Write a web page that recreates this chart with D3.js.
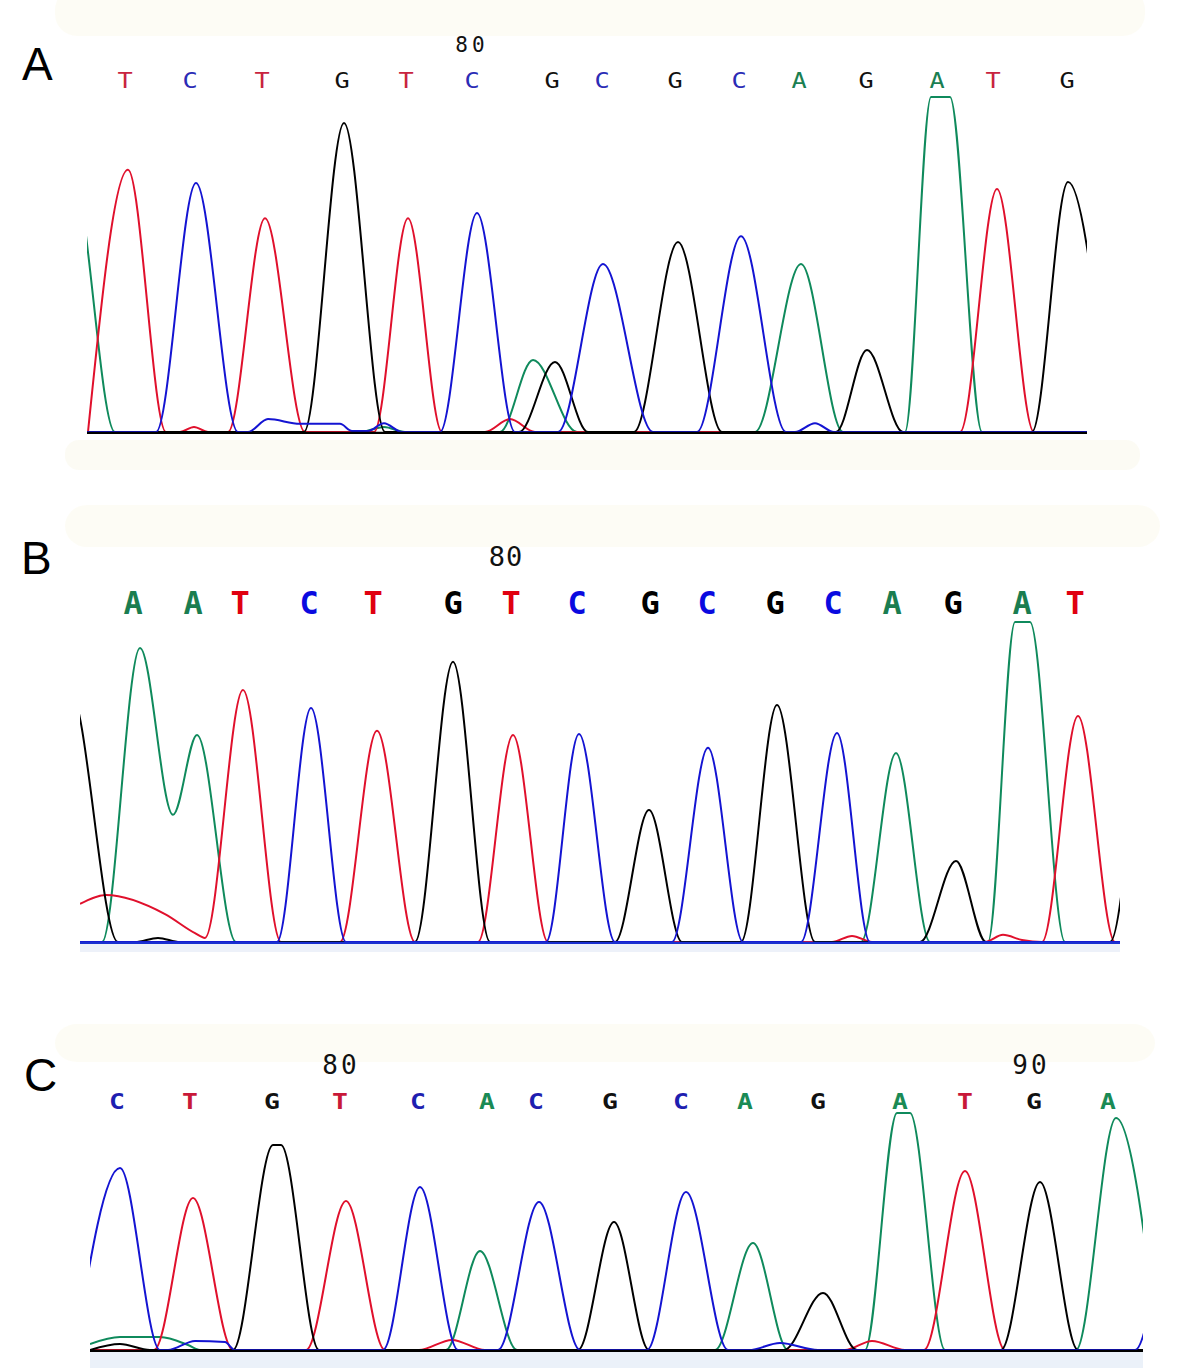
<!DOCTYPE html>
<html><head><meta charset="utf-8">
<script src="https://cdn.jsdelivr.net/npm/d3@7"></script>
<style>body{margin:0;background:#fff}</style>
</head><body>
<svg id="chart" width="1181" height="1368"></svg>
<script>
// ---------- DATA (scan position, signal 0-1000) ----------
// Panel A
const A_seq = ["T","C","T","G","T","C","G","C","G","C","A","G","A","T","G"];
const A_callScan = [38,103,175,255,319,385,465,515,588,652,712,779,850,906,980];
const A_posLabels = ["80"];
const A_posScan = [385];
const A_scanDomain = [0,1000];
const A_traceA = [[-47,0],[-15,771],[28,0],[273,0],[297,15],[318,0],[413,0],[446,212],[490,0],[668,0],[714,494],[756,0],[818,0],[844,985],[863,985],[895,0],[1000,0]];
const A_traceC = [[0,0],[69,0],[109,732],[151,0],[161,0],[181,38],[213,24],[253,24],[265,3],[281,3],[297,26],[315,0],[353,0],[390,644],[428,0],[471,0],[516,494],[566,0],[610,0],[654,576],[699,0],[708,0],[728,26],[747,0],[1000,0]];
const A_traceG = [[0,0],[217,0],[257,909],[298,0],[432,0],[468,206],[501,0],[547,0],[591,559],[635,0],[749,0],[780,241],[816,0],[945,0],[981,735],[1023,0]];
const A_traceT = [[1,0],[41,771],[79,0],[93,0],[107,15],[121,0],[141,0],[178,629],[218,0],[287,0],[321,629],[355,0],[398,0],[423,38],[448,0],[873,0],[910,715],[947,0],[1000,0]];

// Panel B
const B_seq = ["A","A","T","C","T","G","T","C","G","C","G","C","A","G","A","T"];
const B_callScan = [53,113,160,229,293,373,431,497,570,627,695,753,812,873,942,995];
const B_posLabels = ["80"];
const B_posScan = [426];
const B_scanDomain = [0,1040];
const B_traceA = [[0,0],[22,0],[60,865],[93,374],[117,609],[156,0],[781,0],[816,556],[850,0],[908,0],[935,941],[950,941],[985,0],[1040,0]];
const B_traceC = [[0,0],[197,0],[231,688],[266,0],[466,0],[499,612],[535,0],[592,0],[628,571],[663,0],[721,0],[757,615],[790,0],[1040,0]];
const B_traceG = [[-60,0],[-10,741],[38,0],[55,0],[78,12],[100,0],[335,0],[373,824],[410,0],[535,0],[569,388],[602,0],[661,0],[697,697],[735,0],[840,0],[876,238],[906,0],[1030,0],[1055,535]];
const B_traceT = [[0,112],[26,138],[85,82],[115,26],[125,12],[163,741],[201,0],[260,0],[297,621],[335,0],[398,0],[433,609],[468,0],[752,0],[772,18],[792,0],[905,0],[923,21],[942,6],[962,0],[998,665],[1035,0],[1040,0]];

// Panel C
const C_seq = ["C","T","G","T","C","A","C","G","C","A","G","A","T","G","A"];
const C_callScan = [27,100,182,250,328,397,446,520,591,655,728,810,875,944,1018];
const C_posLabels = ["80","90"];
const C_posScan = [251,941];
const C_scanDomain = [0,1053];
const C_traceA = [[0,25],[30,54],[70,54],[98,21],[110,0],[356,0],[390,413],[427,0],[625,0],[663,446],[698,0],[775,0],[807,988],[820,988],[855,0],[986,0],[1026,967],[1069,0]];
const C_traceC = [[-15,0],[30,758],[70,0],[78,0],[105,38],[135,33],[145,0],[293,0],[330,679],[368,0],[408,0],[449,617],[490,0],[557,0],[596,658],[638,0],[659,0],[690,29],[728,0],[1045,0],[1070,417]];
const C_traceG = [[0,0],[30,25],[60,0],[143,0],[183,854],[191,854],[229,0],[488,0],[524,533],[559,0],[694,0],[733,238],[767,0],[911,0],[950,700],[988,0],[1053,0]];
const C_traceT = [[0,0],[64,0],[103,633],[143,0],[216,0],[256,621],[295,0],[329,0],[362,42],[395,0],[755,0],[782,38],[815,0],[834,0],[875,746],[915,0],[1053,0]];

const panelNames = ["A","B","C"];

// ---------- LAYOUT / STYLE ----------
const traceColor = {A:"#0f8a5c", C:"#1414d2", G:"#000000", T:"#e0102c"};
const panels = [
  {seq:A_seq, calls:A_callScan, posL:A_posLabels, posS:A_posScan, dom:A_scanDomain,
   traces:{A:A_traceA,C:A_traceC,G:A_traceG,T:A_traceT},
   left:87, right:1087, base:432, top:92, letterY:88, letterSize:22, letterSX:1.15, letterW:"normal",
   posY:52, posSize:21, posSp:4, labX:22, labY:80,
   lc:{A:"#1b7f52",C:"#2b2bb5",G:"#111",T:"#c8243f"}, baseColor:"#000",
   bandTop:[55,-12,1090,48], bandBot:[65,440,1075,30], botColor:"#fbfaf1"},
  {seq:B_seq, calls:B_callScan, posL:B_posLabels, posS:B_posScan, dom:B_scanDomain,
   traces:{A:B_traceA,C:B_traceC,G:B_traceG,T:B_traceT},
   left:80, right:1120, base:942, top:602, letterY:614, letterSize:32, letterSX:1.0, letterW:"bold",
   posY:566, posSize:27, posSp:1, labX:21, labY:574,
   lc:{A:"#1a7d50",C:"#0a0ae0",G:"#000",T:"#e00010"}, baseColor:"#1a30d0",
   bandTop:[65,505,1095,42], bandBot:[80,944,1040,8], botColor:"#e8eef8"},
  {seq:C_seq, calls:C_callScan, posL:C_posLabels, posS:C_posScan, dom:C_scanDomain,
   traces:{A:C_traceA,C:C_traceC,G:C_traceG,T:C_traceT},
   left:90, right:1143, base:1350, top:1110, letterY:1109, letterSize:22, letterSX:1.2, letterW:"bold",
   posY:1074, posSize:26, posSp:3, labX:24, labY:1091,
   lc:{A:"#1a8a55",C:"#1e1eb0",G:"#111",T:"#c81838"}, baseColor:"#000",
   bandTop:[55,1024,1100,38], bandBot:[90,1352,1053,16], botColor:"#e6edf7"}
];

const svg = d3.select("#chart");
svg.append("rect").attr("width",1181).attr("height",1368).attr("fill","#fff");
const defs = svg.append("defs");

panels.forEach((p,i) => {
  const g = svg.append("g");
  // faint screenshot bands
  g.append("rect").attr("x",p.bandTop[0]).attr("y",p.bandTop[1]).attr("width",p.bandTop[2]).attr("height",p.bandTop[3])
    .attr("rx",22).attr("fill","#fcfbf3").attr("opacity",0.8);
  g.append("rect").attr("x",p.bandBot[0]).attr("y",p.bandBot[1]).attr("width",p.bandBot[2]).attr("height",p.bandBot[3])
    .attr("rx", i===0?14:0).attr("fill", p.botColor).attr("opacity",0.8);

  const x = d3.scaleLinear().domain(p.dom).range([p.left,p.right]);
  const y = d3.scaleLinear().domain([0,1000]).range([p.base,p.top]);

  // panel label
  g.append("text").attr("x",p.labX).attr("y",p.labY)
    .attr("font-family","Liberation Sans, Arial, sans-serif").attr("font-size",46)
    .attr("fill","#000").text(panelNames[i]);

  // base calls
  g.selectAll("text.call").data(p.seq).join("text").attr("class","call")
    .attr("transform",(d,k)=>`translate(${x(p.calls[k])},${p.letterY}) scale(${p.letterSX},1)`)
    .attr("text-anchor","middle")
    .attr("font-family","DejaVu Sans Mono, monospace").attr("font-weight",p.letterW)
    .attr("font-size",p.letterSize).attr("fill",d=>p.lc[d]).text(d=>d);

  // position labels
  g.selectAll("text.pos").data(p.posL).join("text").attr("class","pos")
    .attr("x",(d,k)=>x(p.posS[k])).attr("y",p.posY)
    .attr("text-anchor","middle").attr("letter-spacing",p.posSp)
    .attr("font-family","DejaVu Sans Mono, monospace")
    .attr("font-size",p.posSize).attr("fill","#111").text(d=>d);

  // clip
  const cid = "clip"+i;
  defs.append("clipPath").attr("id",cid).append("rect")
    .attr("x",p.left).attr("y",p.top-30).attr("width",p.right-p.left).attr("height",p.base-p.top+32);

  const line = d3.line().x(d=>x(d[0])).y(d=>y(d[1])).curve(d3.curveMonotoneX);
  const tg = g.append("g").attr("clip-path",`url(#${cid})`);

  ["A","T","G","C"].forEach(b => {
    tg.append("path").datum(p.traces[b]).attr("d",line)
      .attr("fill","none").attr("stroke",traceColor[b]).attr("stroke-width",2)
      .attr("stroke-linejoin","round");
  });
  // baseline axis on top
  tg.append("line").attr("x1",p.left).attr("x2",p.right).attr("y1",p.base+1).attr("y2",p.base+1)
    .attr("stroke",p.baseColor).attr("stroke-width",2.4);
  if (p.baseColor !== "#000") {
    tg.append("line").attr("x1",p.left).attr("x2",p.right).attr("y1",p.base+2.5).attr("y2",p.base+2.5)
      .attr("stroke","#000").attr("stroke-width",1);
  }
});
</script>
</body></html>
